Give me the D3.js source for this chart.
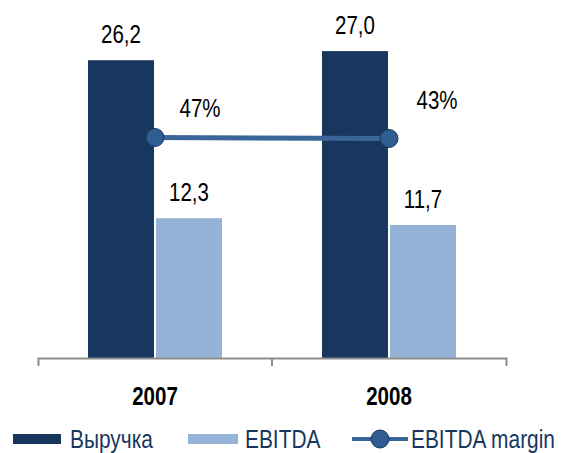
<!DOCTYPE html>
<html>
<head>
<meta charset="utf-8">
<script src="https://cdn.jsdelivr.net/npm/d3@7"></script>
<style>
  body { margin: 0; background: #fff; }
  text { font-family: "Liberation Sans", Arial, sans-serif; }
</style>
</head>
<body>
<svg id="chart" width="565" height="453"></svg>
<script>
const years = ['2007', '2008'];
const revenue = [26.2, 27.0];
const ebitda = [12.3, 11.7];
const margin = [47, 43];
const seriesNames = ['Выручка', 'EBITDA', 'EBITDA margin'];

const colors = { rev: '#17375e', ebitda: '#95b3d7', line: '#3a6599', dot: '#2f5d91' };

const svg = d3.select('#chart');
const base = 358;
const narrow = 0.82; // squeeze Liberation Sans to look like Arial Narrow

const x0 = d3.scaleBand().domain(years).range([38, 506]);
const x1 = d3.scaleBand().domain(['rev', 'ebitda']).range([-67, 67]).paddingInner(0.03);
const y = d3.scaleLinear().domain([0, 30]).range([base, 17]);
// margin sits on its own (almost flat) secondary scale
const y2 = d3.scaleLinear().domain([-835, 529]).range([base, 17]);

const fmt = v => d3.format('.1f')(v).replace('.', ',');
const cx = d => x0(d) + x0.bandwidth() / 2;
const place = (x, yy) => 'translate(' + x + ',' + yy + ') scale(' + narrow + ',1)';

const rows = years.map((yr, i) => ({ yr, rev: revenue[i], ebitda: ebitda[i], margin: margin[i] }));

// bars
['rev', 'ebitda'].forEach(key => {
    svg.append('g').selectAll('rect')
        .data(rows)
        .enter().append('rect')
        .attr('x', d => cx(d.yr) + x1(key))
        .attr('width', x1.bandwidth())
        .attr('y', d => y(d[key]))
        .attr('height', d => base - y(d[key]))
        .attr('fill', colors[key]);

    svg.append('g').selectAll('text')
        .data(rows)
        .enter().append('text')
        .attr('transform', d => place(cx(d.yr) + x1(key) + x1.bandwidth() / 2, y(d[key]) - 17))
        .attr('text-anchor', 'middle')
        .style('font-size', '25px')
        .attr('fill', '#000')
        .text(d => fmt(d[key]));
});

// axis
const axis = svg.append('g')
    .attr('transform', 'translate(0,' + base + ')')
    .call(d3.axisBottom(x0).tickSizeInner(0).tickSizeOuter(8));
axis.select('.domain').attr('stroke', '#8c8c8c').attr('stroke-width', 2);
axis.selectAll('.tick text')
    .style('font-size', '25px')
    .style('font-weight', 'bold')
    .attr('fill', '#000')
    .attr('dy', 0)
    .attr('y', 0)
    .attr('transform', place(0, 47));
axis.append('line')
    .attr('x1', x0('2008')).attr('x2', x0('2008'))
    .attr('y1', 0).attr('y2', 8)
    .attr('stroke', '#8c8c8c').attr('stroke-width', 2);

// margin line
const line = d3.line().x(d => cx(d.yr)).y(d => y2(d.margin));
svg.append('path')
    .datum(rows)
    .attr('d', line)
    .attr('fill', 'none')
    .attr('stroke', colors.line)
    .attr('stroke-width', 5);
svg.append('g').selectAll('circle')
    .data(rows)
    .enter().append('circle')
    .attr('cx', d => cx(d.yr))
    .attr('cy', d => y2(d.margin))
    .attr('r', 9)
    .attr('fill', colors.dot)
    .attr('stroke', '#17375e')
    .attr('stroke-width', 1);

const labelShift = [[45, -21], [48, -30]];
svg.append('g').selectAll('text')
    .data(rows)
    .enter().append('text')
    .attr('transform', (d, i) => place(cx(d.yr) + labelShift[i][0], y2(d.margin) + labelShift[i][1]))
    .attr('text-anchor', 'middle')
    .style('font-size', '25px')
    .attr('fill', '#000')
    .text(d => d.margin + '%');

// legend
const legend = svg.append('g').attr('transform', 'translate(0,439)');
const lg = [
    { x: 13, kind: 'rev' },
    { x: 188, kind: 'ebitda' },
    { x: 352, kind: 'line' }
];
lg.forEach((d, i) => {
    const g = legend.append('g').attr('transform', 'translate(' + d.x + ',0)');
    if (d.kind === 'line') {
        g.append('line').attr('x1', 0).attr('x2', 56).attr('y1', 0).attr('y2', 0)
            .attr('stroke', colors.line).attr('stroke-width', 4);
        g.append('circle').attr('cx', 28).attr('cy', 0).attr('r', 9)
            .attr('fill', colors.dot).attr('stroke', '#17375e').attr('stroke-width', 1);
    } else {
        g.append('rect').attr('x', 0).attr('y', -5).attr('width', d.kind === 'rev' ? 48 : 50).attr('height', 10)
            .attr('fill', colors[d.kind]);
    }
    g.append('text')
        .attr('transform', place(d.kind === 'line' ? 59 : 57, 9))
        .text(seriesNames[i])
        .style('font-size', '25.5px')
        .attr('fill', '#17375e');
});
</script>
</body>
</html>
